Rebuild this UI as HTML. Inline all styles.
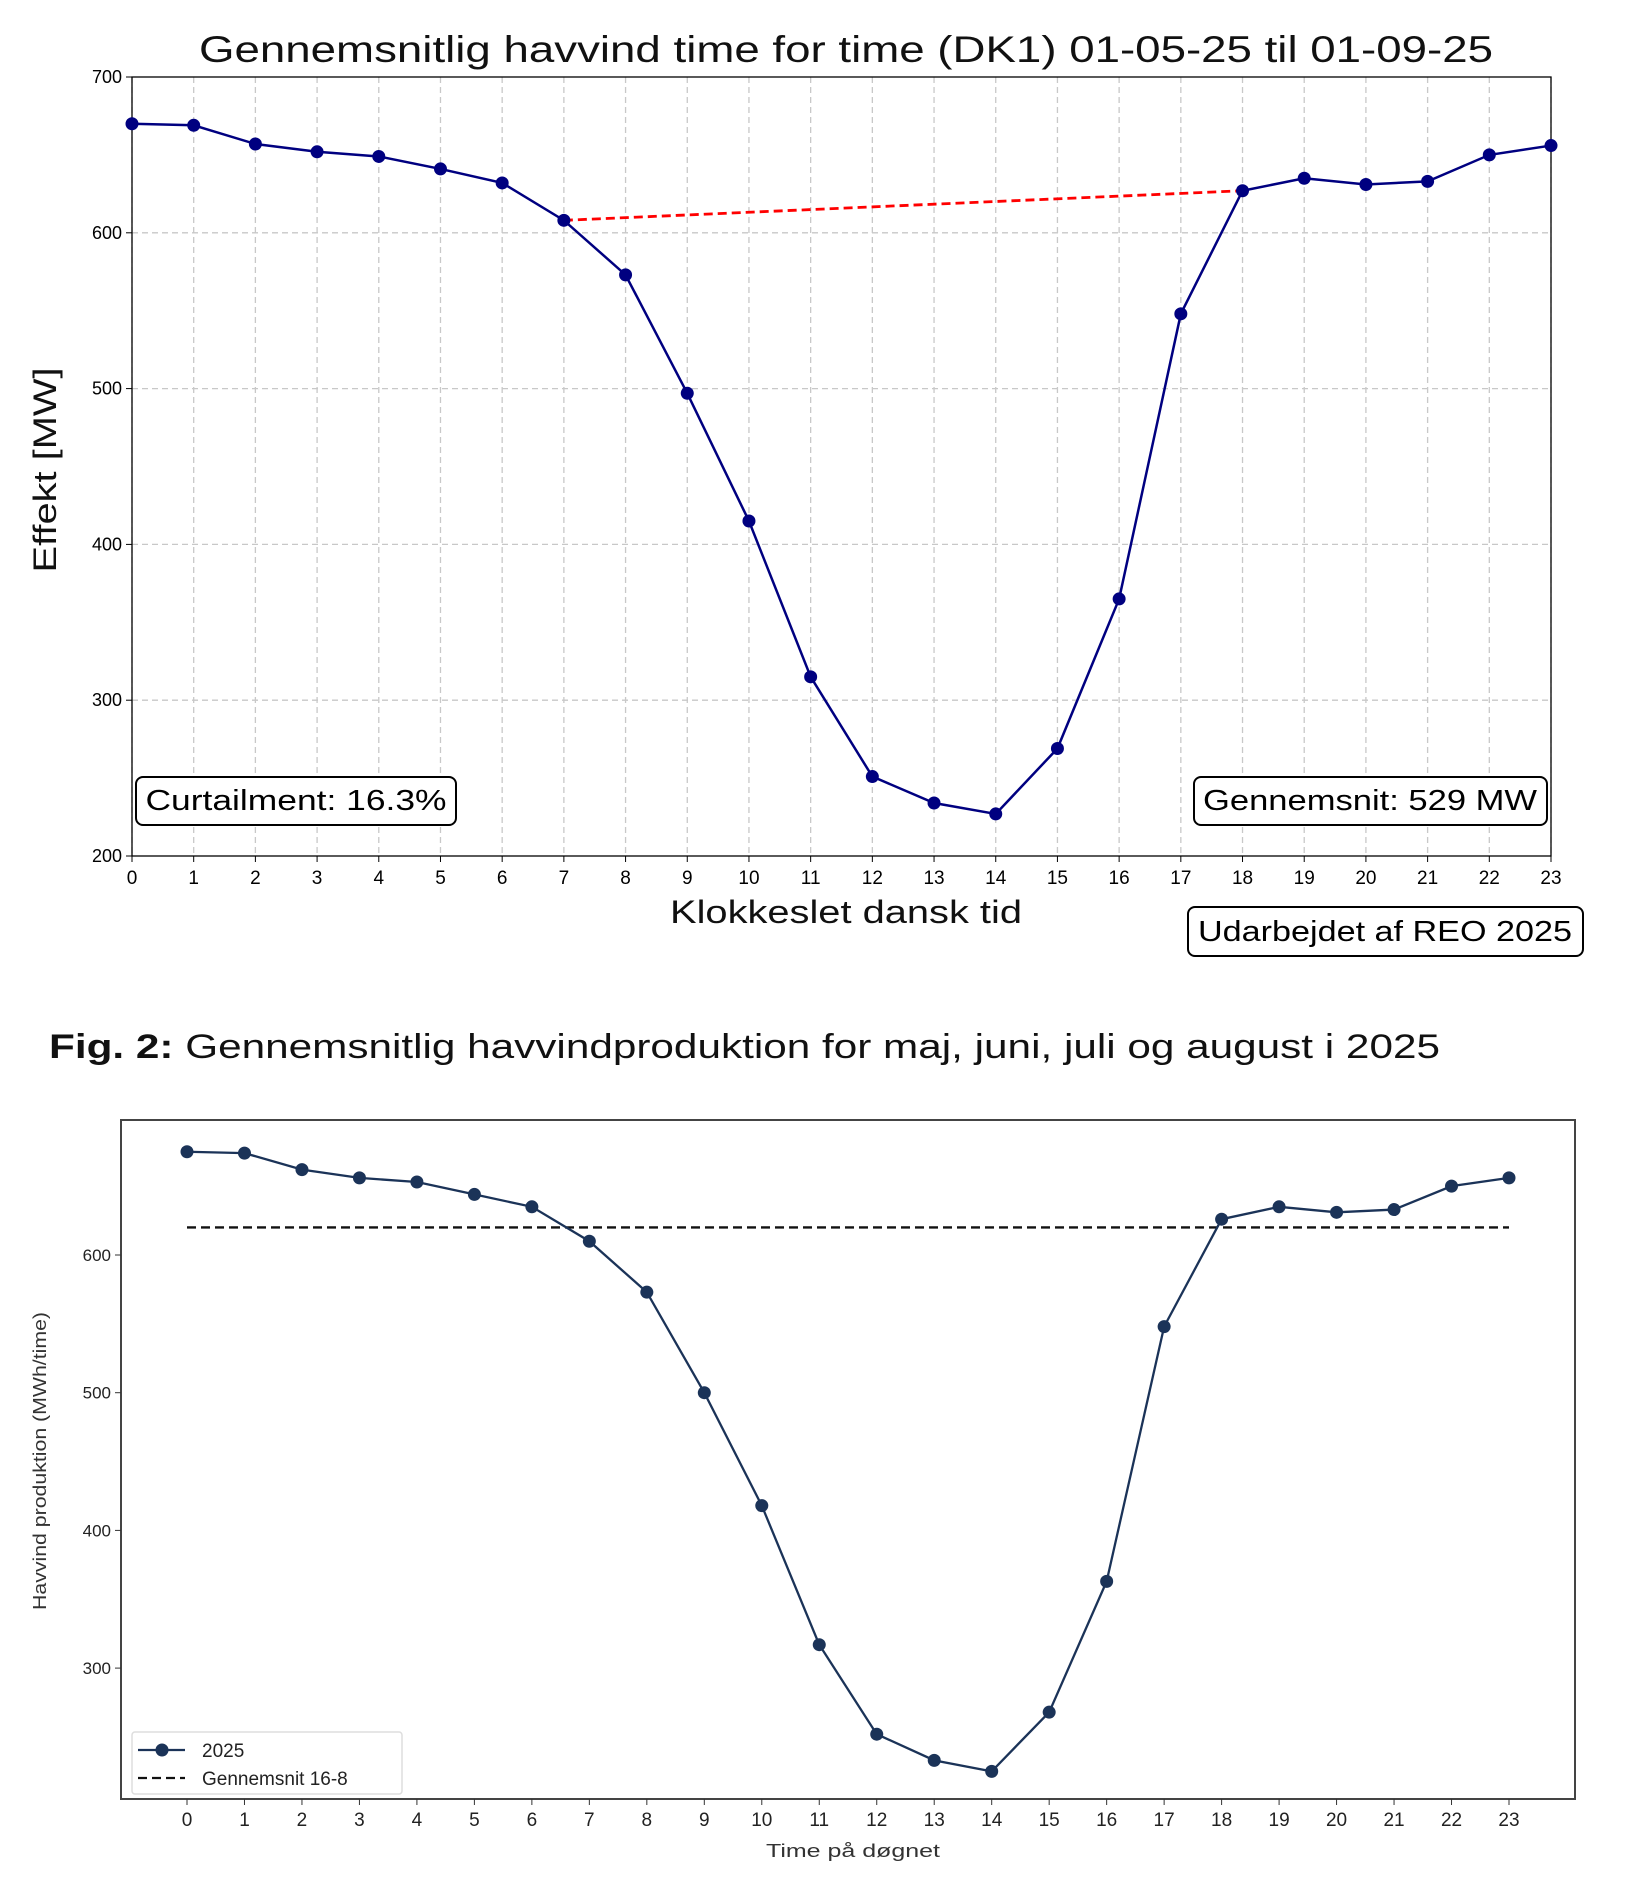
<!DOCTYPE html>
<html><head><meta charset="utf-8"><style>
html,body{margin:0;padding:0;background:#fff;}
svg{display:block;font-family:"Liberation Sans",sans-serif;}
</style></head><body>
<svg id="s" width="1627" height="1903" viewBox="0 0 1627 1903" xmlns="http://www.w3.org/2000/svg">
<rect width="1627" height="1903" fill="#fff"/>
<text x="846" y="62" font-size="37" text-anchor="middle" fill="#111" textLength="1294" lengthAdjust="spacingAndGlyphs">Gennemsnitlig havvind time for time (DK1) 01-05-25 til 01-09-25</text>
<g id="c1"></g>
<text transform="translate(56,470) rotate(-90)" font-size="32" text-anchor="middle" fill="#111" textLength="205" lengthAdjust="spacingAndGlyphs">Effekt [MW]</text>
<text x="846" y="923" font-size="32" text-anchor="middle" fill="#111" textLength="352" lengthAdjust="spacingAndGlyphs">Klokkeslet dansk tid</text>
<rect x="136" y="777" width="320" height="48" rx="7" fill="#fff" stroke="#000" stroke-width="2"/>
<text x="296" y="810" font-size="29" text-anchor="middle" textLength="301" lengthAdjust="spacingAndGlyphs">Curtailment: 16.3%</text>
<rect x="1194" y="777" width="353" height="48" rx="7" fill="#fff" stroke="#000" stroke-width="2"/>
<text x="1370" y="810" font-size="29" text-anchor="middle" textLength="334" lengthAdjust="spacingAndGlyphs">Gennemsnit: 529 MW</text>
<rect x="1188" y="907" width="395" height="49" rx="7" fill="#fff" stroke="#000" stroke-width="2"/>
<text x="1385" y="941" font-size="29" text-anchor="middle" textLength="374" lengthAdjust="spacingAndGlyphs">Udarbejdet af REO 2025</text>
<text x="49" y="1058" font-size="34" fill="#111" textLength="1391" lengthAdjust="spacingAndGlyphs"><tspan font-weight="bold">Fig. 2:</tspan> Gennemsnitlig havvindproduktion for maj, juni, juli og august i 2025</text>
<g id="c2"></g>
<text transform="translate(46,1461) rotate(-90)" font-size="18" text-anchor="middle" fill="#333" textLength="298" lengthAdjust="spacingAndGlyphs">Havvind produktion (MWh/time)</text>
<text x="853" y="1857" font-size="18" text-anchor="middle" fill="#333" textLength="174" lengthAdjust="spacingAndGlyphs">Time på døgnet</text>
</svg>
<script>
const NS="http://www.w3.org/2000/svg";
function el(p,t,a,txt){const e=document.createElementNS(NS,t);for(const k in a)e.setAttribute(k,a[k]);if(txt!==undefined)e.textContent=txt;p.appendChild(e);return e;}
const g1=document.getElementById('c1');
const L=132,R=1551,T=77,B=856;
const X1=i=>L+i*(R-L)/23, Y1=v=>B-(v-200)*(B-T)/500;
for(let i=0;i<24;i++){el(g1,'line',{x1:X1(i),x2:X1(i),y1:T,y2:B,stroke:'#c8c8c8','stroke-dasharray':'6,4','stroke-width':1.3});
el(g1,'line',{x1:X1(i),x2:X1(i),y1:B,y2:B+6,stroke:'#000'});
el(g1,'text',{x:X1(i),y:B+28,'font-size':19,'text-anchor':'middle'},i);}
for(let v=200;v<=700;v+=100){if(v>200&&v<700)el(g1,'line',{x1:L,x2:R,y1:Y1(v),y2:Y1(v),stroke:'#c8c8c8','stroke-dasharray':'6,4','stroke-width':1.3});
el(g1,'line',{x1:L-6,x2:L,y1:Y1(v),y2:Y1(v),stroke:'#000'});
el(g1,'text',{x:L-10,y:Y1(v)+6,'font-size':18,'text-anchor':'end'},v);}
el(g1,'rect',{x:L,y:T,width:R-L,height:B-T,fill:'none',stroke:'#000','stroke-width':1.3});
const d1=[670,669,657,652,649,641,632,608,573,497,415,315,251,234,227,269,365,548,627,635,631,633,650,656];
el(g1,'polyline',{points:d1.map((v,i)=>X1(i)+','+Y1(v)).join(' '),fill:'none',stroke:'#000080','stroke-width':2.5});
el(g1,'line',{x1:X1(7),y1:Y1(608),x2:X1(18),y2:Y1(627),stroke:'#ff0000','stroke-width':2.8,'stroke-dasharray':'9,5'});
d1.forEach((v,i)=>el(g1,'circle',{cx:X1(i),cy:Y1(v),r:6.5,fill:'#000080'}));
const g2=document.getElementById('c2');
const fl=121,fr=1575,ft=1120,fb=1799;
const X2=i=>187+i*(1509-187)/23, Y2=v=>1255-(v-600)*1.377;
el(g2,'rect',{x:fl,y:ft,width:fr-fl,height:fb-ft,fill:'none',stroke:'#444','stroke-width':2});
for(let i=0;i<24;i++){el(g2,'line',{x1:X2(i),x2:X2(i),y1:fb,y2:fb+6,stroke:'#333'});
el(g2,'text',{x:X2(i),y:fb+27,'font-size':19,'text-anchor':'middle',fill:'#222'},i);}
for(let v=300;v<=600;v+=100){el(g2,'line',{x1:fl-6,x2:fl,y1:Y2(v),y2:Y2(v),stroke:'#333'});
el(g2,'text',{x:fl-10,y:Y2(v)+6,'font-size':17,'text-anchor':'end',fill:'#222'},v);}
el(g2,'line',{x1:X2(0),x2:X2(23),y1:Y2(620),y2:Y2(620),stroke:'#111','stroke-width':2.3,'stroke-dasharray':'9,5'});
const d2=[675,674,662,656,653,644,635,610,573,500,418,317,252,233,225,268,363,548,626,635,631,633,650,656];
el(g2,'polyline',{points:d2.map((v,i)=>X2(i)+','+Y2(v)).join(' '),fill:'none',stroke:'#1b3358','stroke-width':2.3});
d2.forEach((v,i)=>el(g2,'circle',{cx:X2(i),cy:Y2(v),r:6.5,fill:'#1b3358'}));
el(g2,'rect',{x:132,y:1732,width:270,height:62,rx:3,fill:'#fff',stroke:'#ddd','stroke-width':1.5});
el(g2,'line',{x1:138,x2:185,y1:1750,y2:1750,stroke:'#1b3358','stroke-width':2.3});
el(g2,'circle',{cx:162,cy:1750,r:6.5,fill:'#1b3358'});
el(g2,'text',{x:202,y:1757,'font-size':19,fill:'#222'},'2025');
el(g2,'line',{x1:138,x2:185,y1:1778,y2:1778,stroke:'#111','stroke-width':2.3,'stroke-dasharray':'9,5'});
el(g2,'text',{x:202,y:1785,'font-size':19,fill:'#222'},'Gennemsnit 16-8');
</script>
</body></html>
